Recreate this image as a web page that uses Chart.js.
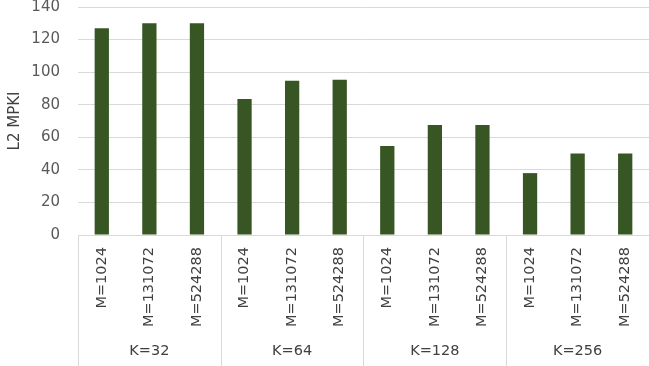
<!DOCTYPE html>
<html>
<head>
<meta charset="utf-8">
<script src="https://cdn.jsdelivr.net/npm/chart.js@4"></script>
<style>
  html, body { margin: 0; padding: 0; background: #fff; }
  #wrap { width: 649px; height: 366px; }
</style>
</head>
<body>
<div id="wrap"><canvas id="mpkiChart"></canvas></div>
<script>
// groups along the x axis, with the M sizes inside each group
const groups = ['K=32', 'K=64', 'K=128', 'K=256'];
const mSizes = ['M=1024', 'M=131072', 'M=524288'];
const yTicks = [0, 20, 40, 60, 80, 100, 120, 140];

// L2 MPKI per bar, in group order
const mpki = [127, 130, 130, 83.5, 94.7, 95.3, 54.7, 67.5, 67.5, 38, 50, 50];

const labels = [];
groups.forEach(() => mSizes.forEach(m => labels.push(m)));

const gridColor = '#d9d9d9';
const fontFamily = '"DejaVu Sans", sans-serif';

// draws the K group labels and the separator lines under the axis
const groupAxis = {
    id: 'groupAxis',
    afterDraw(chart) {
        const ctx = chart.ctx;
        const x = chart.scales.x;
        const area = chart.chartArea;
        const step = x.getPixelForValue(1) - x.getPixelForValue(0);
        ctx.save();
        ctx.strokeStyle = gridColor;
        ctx.lineWidth = 1;
        for (let g = 0; g <= groups.length; g++) {
            const px = Math.round(x.getPixelForValue(g * mSizes.length) - step / 2) + 0.5;
            ctx.beginPath();
            ctx.moveTo(px, area.bottom);
            ctx.lineTo(px, chart.height);
            ctx.stroke();
        }
        ctx.fillStyle = '#404040';
        ctx.font = '14.5px ' + fontFamily;
        ctx.textAlign = 'center';
        ctx.textBaseline = 'middle';
        groups.forEach((g, i) => {
            const first = x.getPixelForValue(i * mSizes.length);
            const last = x.getPixelForValue(i * mSizes.length + mSizes.length - 1);
            ctx.fillText(g, (first + last) / 2, 351);
        });
        ctx.restore();
    }
};

new Chart(document.getElementById('mpkiChart'), {
    type: 'bar',
    data: {
        labels: labels,
        datasets: [{
            label: 'L2 MPKI',
            data: mpki,
            backgroundColor: '#375623',
            borderWidth: 0,
            barPercentage: 0.3,
            categoryPercentage: 1
        }]
    },
    options: {
        responsive: true,
        maintainAspectRatio: false,
        animation: false,
        layout: { padding: { top: 0, right: 0, bottom: 0, left: 0 } },
        plugins: {
            legend: { display: false },
            tooltip: { enabled: false }
        },
        scales: {
            x: {
                afterFit: s => {
                    s.height = 131;
                    s.paddingLeft = 0;
                    s.paddingRight = 0;
                },
                grid: { display: false },
                border: { color: gridColor, width: 1 },
                ticks: {
                    minRotation: 90,
                    maxRotation: 90,
                    padding: 4,
                    color: '#404040',
                    font: { family: fontFamily, size: 14.5 }
                }
            },
            y: {
                min: 0,
                max: 140,
                afterFit: s => {
                    s.width = 78;
                    s.paddingTop = 7;
                    s.paddingBottom = 0;
                },
                afterBuildTicks: s => { s.ticks = yTicks.map(v => ({ value: v })); },
                grid: { color: gridColor, drawTicks: false },
                border: { display: false },
                ticks: {
                    padding: 18,
                    color: '#595959',
                    font: { family: fontFamily, size: 15 }
                },
                title: {
                    display: true,
                    text: 'L2 MPKI',
                    color: '#404040',
                    padding: { top: 6, bottom: 0 },
                    font: { family: fontFamily, size: 15 }
                }
            }
        }
    },
    plugins: [groupAxis]
});
</script>
</body>
</html>
